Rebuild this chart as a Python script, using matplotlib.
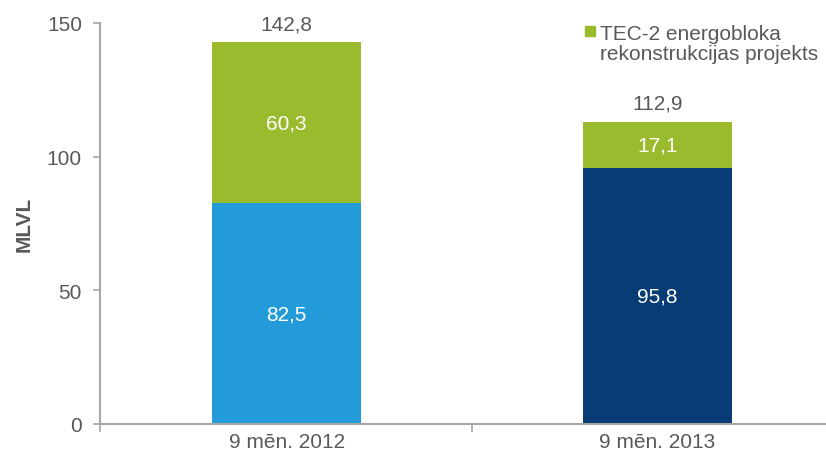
import numpy as np
import matplotlib.pyplot as plt
from matplotlib.patches import Rectangle

# data
categories = ['9 mēn. 2012', '9 mēn. 2013']
base_values = [82.5, 95.8]
tec2_values = [60.3, 17.1]
totals = [142.8, 112.9]
base_colors = ['#229BD8', '#083C74']
tec2_color = '#9BBB2F'
legend_label = 'TEC-2 energobloka\nrekonstrukcijas projekts'

grey = '#595959'
spine = '#A6A6A6'
fs = 15
plt.rcParams['font.family'] = ['Liberation Sans', 'DejaVu Sans']

fig = plt.figure(figsize=(8.26, 4.60), dpi=100)
ax = fig.add_axes([100/826, 1-425/460, 726/826, 401/460])

x = np.arange(len(categories))
ax.bar(x, base_values, width=0.40, color=base_colors)
ax.bar(x, tec2_values, width=0.40, bottom=base_values, color=tec2_color)

for i in range(len(categories)):
    ax.text(x[i], base_values[i]/2, f'{base_values[i]:.1f}'.replace('.', ','),
            ha='center', va='center', color='white', fontsize=fs)
    ax.text(x[i], base_values[i] + tec2_values[i]/2, f'{tec2_values[i]:.1f}'.replace('.', ','),
            ha='center', va='center', color='white', fontsize=fs)
    ax.text(x[i], totals[i] + 7, f'{totals[i]:.1f}'.replace('.', ','),
            ha='center', va='center', color=grey, fontsize=fs)

ax.set_yticks([0, 50, 100, 150])
ax.set_xticks(x)
ax.set_xticklabels(categories)
ax.set_xticks([-0.503, 0.5, 1.5], minor=True)
ax.set_xlim(-0.503, 1.454)
ax.set_ylim(0, 150)
ax.tick_params(axis='x', which='major', length=0, pad=6, labelsize=fs, labelcolor=grey)
ax.tick_params(axis='x', which='minor', length=6, color=spine, width=1.2)
ax.tick_params(axis='y', length=5, color=spine, width=1.2, labelsize=fs, labelcolor=grey, pad=8)
for s in ['top', 'right']:
    ax.spines[s].set_visible(False)
for s in ['left', 'bottom']:
    ax.spines[s].set_color(spine)
    ax.spines[s].set_linewidth(1.5)
ax.set_ylabel('MLVL', color=grey, fontsize=fs, fontweight='bold')
ax.yaxis.set_label_coords(-0.092, 0.5)

# legend
fig.patches.append(Rectangle((585/826, 1-37/460), 10/826, 10/460,
                             transform=fig.transFigure, color=tec2_color))
fig.text(600/826, 1-60/460, legend_label, ha='left', va='baseline', color=grey,
         fontsize=fs, linespacing=1.08)

fig.savefig('out.png', dpi=100)
